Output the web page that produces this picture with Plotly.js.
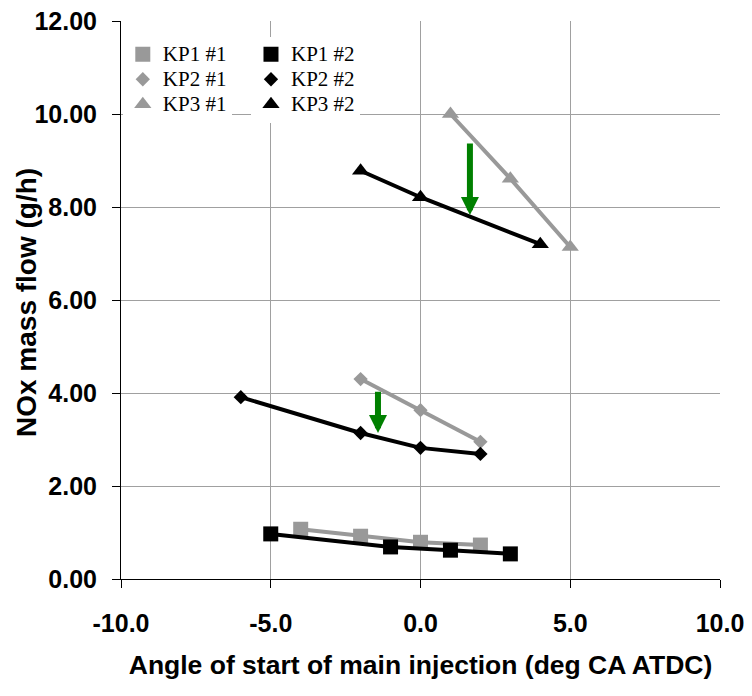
<!DOCTYPE html>
<html>
<head>
<meta charset="utf-8">
<script src="https://cdn.plot.ly/plotly-3.0.1.min.js"></script>
<style>html,body{margin:0;padding:0;background:#fff;}#chart{width:752px;height:696px;}</style>
</head>
<body>
<div id="chart"></div>
<script>
// ---- data ----
const seriesNames = ["KP1 #1", "KP1 #2", "KP2 #1", "KP2 #2", "KP3 #1", "KP3 #2"];
const xKP1_1 = [-4, -2, 0, 2];
const yKP1_1 = [1.07, 0.92, 0.79, 0.73];
const xKP1_2 = [-5, -1, 1, 3];
const yKP1_2 = [0.97, 0.69, 0.62, 0.54];
const xKP2_1 = [-2, 0, 2];
const yKP2_1 = [4.30, 3.63, 2.95];
const xKP2_2 = [-6, -2, 0, 2];
const yKP2_2 = [3.91, 3.14, 2.82, 2.69];
const xKP3_1 = [1, 3, 5];
const yKP3_1 = [10.00, 8.61, 7.14];
const xKP3_2 = [-2, 0, 4];
const yKP3_2 = [8.78, 8.21, 7.20];

// green arrows (x position, tail y, tip y)
const arrowX = [1.65, -1.42];
const arrowTailY = [9.40, 4.06];
const arrowTipY = [7.83, 3.14];

const xTickVals = [-10, -5, 0, 5, 10];
const xTickText = ["-10.0", "-5.0", "0.0", "5.0", "10.0"];
const yTickVals = [0, 2, 4, 6, 8, 10, 12];
const yTickText = ["0.00", "2.00", "4.00", "6.00", "8.00", "10.00", "12.00"];

const xTitle = "Angle of start of main injection (deg CA ATDC)";
const yTitle = "NOx mass flow (g/h)";

// ---- styling ----
const GRAY = "#999999";
const BLACK = "#000000";
const series = [
  {name: seriesNames[0], x: xKP1_1, y: yKP1_1, color: GRAY, symbol: "square", size: 15, legend: "legend"},
  {name: seriesNames[2], x: xKP2_1, y: yKP2_1, color: GRAY, symbol: "diamond", size: 11, legend: "legend"},
  {name: seriesNames[4], x: xKP3_1, y: yKP3_1, color: GRAY, symbol: "triangle-up", size: 15, legend: "legend"},
  {name: seriesNames[1], x: xKP1_2, y: yKP1_2, color: BLACK, symbol: "square", size: 15, legend: "legend2"},
  {name: seriesNames[3], x: xKP2_2, y: yKP2_2, color: BLACK, symbol: "diamond", size: 11, legend: "legend2"},
  {name: seriesNames[5], x: xKP3_2, y: yKP3_2, color: BLACK, symbol: "triangle-up", size: 15, legend: "legend2"}
];

const traces = [];
series.forEach(s => {
  traces.push({
    type: "scatter", mode: "lines", x: s.x, y: s.y,
    line: {color: s.color, width: 4}, showlegend: false, hoverinfo: "skip"
  });
  traces.push({
    type: "scatter", mode: "markers", x: s.x, y: s.y,
    name: "<span style='font-size:21px'>" + s.name + "</span>",
    legend: s.legend,
    marker: {color: s.color, symbol: s.symbol, size: s.size, line: {width: 0}}
  });
});

const tickFont = {family: "Liberation Sans, Arial, sans-serif", size: 25, color: "#000", weight: "bold"};
const titleFont = {family: "Liberation Sans, Arial, sans-serif", size: 26.5, color: "#000", weight: "bold"};
const yTitleFont = {family: "Liberation Sans, Arial, sans-serif", size: 28, color: "#000", weight: "bold"};
const legendFont = {family: "Liberation Serif, Times New Roman, serif", size: 17, color: "#000"};

const annotations = arrowX.map((ax, i) => ({
  x: ax, y: arrowTipY[i], ax: ax, ay: arrowTailY[i],
  xref: "x", yref: "y", axref: "x", ayref: "y",
  text: "", showarrow: true, arrowhead: 2, arrowsize: 0.6,
  arrowwidth: 6, arrowcolor: "#008000"
}));
annotations.push({
  text: yTitle, showarrow: false, textangle: -90,
  xref: "paper", yref: "paper", x: -0.1586, y: 0.4964,
  xanchor: "center", yanchor: "middle", font: yTitleFont
});

const layout = {
  width: 752, height: 696,
  margin: {l: 121, r: 32, t: 21, b: 117, pad: 0},
  paper_bgcolor: "#fff", plot_bgcolor: "#fff",
  showlegend: true,
  xaxis: {
    range: [-10, 10], tickmode: "array", tickvals: xTickVals, ticktext: xTickText,
    showgrid: true, gridcolor: "#a0a0a0", gridwidth: 1, zeroline: false,
    showline: true, linecolor: "#000", linewidth: 1,
    ticks: "outside", ticklen: 8, tickcolor: "#000", ticklabelstandoff: 14,
    tickfont: tickFont,
    title: {text: xTitle, font: titleFont, standoff: 19},
    automargin: false
  },
  yaxis: {
    range: [0, 12], tickmode: "array", tickvals: yTickVals, ticktext: yTickText,
    showgrid: true, gridcolor: "#a0a0a0", gridwidth: 1, zeroline: false,
    showline: true, linecolor: "#000", linewidth: 1,
    ticks: "outside", ticklen: 8, tickcolor: "#000", ticklabelstandoff: 10,
    tickfont: tickFont,
    automargin: false
  },
  legend: {
    x: 0.003, y: 0.972, xanchor: "left", yanchor: "top",
    bgcolor: "#fff", borderwidth: 0, font: legendFont, tracegroupgap: 0
  },
  legend2: {
    x: 0.217, y: 0.972, xanchor: "left", yanchor: "top",
    bgcolor: "#fff", borderwidth: 0, font: legendFont, tracegroupgap: 0
  },
  annotations: annotations
};

Plotly.newPlot("chart", traces, layout, {displayModeBar: false, staticPlot: true});
</script>
</body>
</html>
